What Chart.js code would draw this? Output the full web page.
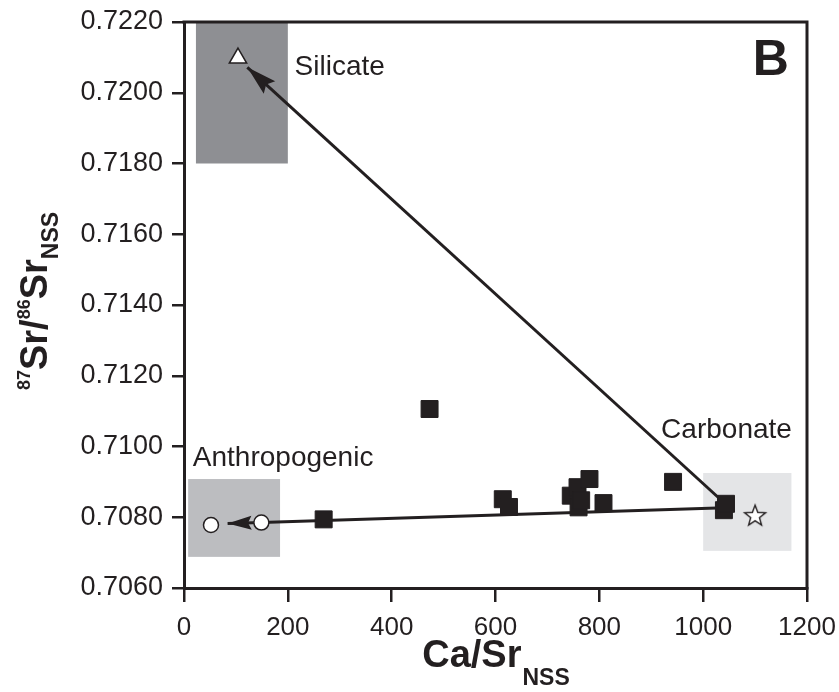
<!DOCTYPE html>
<html>
<head>
<meta charset="utf-8">
<script src="https://cdn.jsdelivr.net/npm/chart.js@4.4.0/dist/chart.umd.min.js"></script>
<style>
  html, body { margin: 0; padding: 0; background: #fff; }
  #wrap { width: 839px; height: 692px; }
</style>
</head>
<body>
<div id="wrap"><canvas id="srChart"></canvas></div>
<script>
// river samples, Ca/Sr vs 87Sr/86Sr (non sea salt)
const sampleCaSr = [269, 473, 614, 626, 745, 758, 760, 765, 781, 808, 942, 1040, 1044];
const sampleSr = [0.70794, 0.71106, 0.70851, 0.70829, 0.70861, 0.70885, 0.70828, 0.70848, 0.70908, 0.70840, 0.70900, 0.70820, 0.70838];

// end members
const anthroCaSr = [52, 149];
const anthroSr = [0.70778, 0.70785];
const silicateCaSr = [104];
const silicateSr = [0.72098];
const carbonateCaSr = [1100];
const carbonateSr = [0.70806];

// mixing lines (start -> arrow tip)
const silLineCaSr = [1044, 122];
const silLineSr = [0.70836, 0.72072];
const mixLineCaSr = [1042, 149];
const mixLineSr = [0.70827, 0.70785];
const anthArrowCaSr = [149, 84];
const anthArrowSr = [0.70785, 0.70782];

// end-member fields [min, max]
const fieldNames = ['Silicate', 'Anthropogenic', 'Carbonate'];
const fieldCaSr = [[23, 200], [8, 185], [1000, 1170]];
const fieldSr = [[0.7180, 0.7220], [0.70688, 0.70908], [0.70705, 0.70925]];

const xTicks = [0, 200, 400, 600, 800, 1000, 1200];
const yTicks = [0.7060, 0.7080, 0.7100, 0.7120, 0.7140, 0.7160, 0.7180, 0.7200, 0.7220];

const INK = '#231f20';
const FONT = "'Liberation Sans', Arial, Helvetica, sans-serif";
const fieldColors = ['#8e8f93', '#bcbdc0', '#e4e5e7'];
// label anchors in data units (left, baseline)
const fieldLabelAt = [[213, 0.7205], [17, 0.70945], [919, 0.71024]];
const panelLabelAt = [1165, 0.7205];

const pts = (xs, ys) => xs.map((x, i) => ({ x: x, y: ys[i] }));

function makeStar(r) {
  const s = Math.ceil(r * 2 + 4);
  const c = document.createElement('canvas');
  c.width = s; c.height = s;
  const g = c.getContext('2d');
  g.beginPath();
  for (let i = 0; i < 10; i++) {
    const rr = i % 2 ? r * 0.42 : r;
    const a = -Math.PI / 2 + i * Math.PI / 5;
    g.lineTo(s / 2 + rr * Math.cos(a), s / 2 + 1 + rr * Math.sin(a));
  }
  g.closePath();
  g.fillStyle = '#fff';
  g.fill();
  g.lineWidth = 1.4;
  g.strokeStyle = INK;
  g.stroke();
  return c;
}

const fieldsPlugin = {
  id: 'fields',
  beforeDatasetsDraw(chart) {
    const { ctx, scales: { x, y } } = chart;
    ctx.save();
    fieldNames.forEach((n, i) => {
      const x0 = x.getPixelForValue(fieldCaSr[i][0]);
      const x1 = x.getPixelForValue(fieldCaSr[i][1]);
      const y0 = y.getPixelForValue(fieldSr[i][1]);
      const y1 = y.getPixelForValue(fieldSr[i][0]);
      ctx.fillStyle = fieldColors[i];
      ctx.fillRect(x0, y0, x1 - x0, y1 - y0);
    });
    ctx.restore();
  },
  afterDatasetsDraw(chart) {
    const { ctx, scales: { x, y } } = chart;
    ctx.save();
    // arrow heads
    chart.data.datasets.forEach((ds, i) => {
      if (!ds.arrow) return;
      const d = chart.getDatasetMeta(i).data;
      const a = d[d.length - 2], b = d[d.length - 1];
      const ang = Math.atan2(b.y - a.y, b.x - a.x);
      ctx.save();
      ctx.translate(b.x, b.y);
      ctx.rotate(ang);
      ctx.beginPath();
      ctx.moveTo(0, 0);
      ctx.lineTo(-ds.arrow[0], -ds.arrow[1] / 2);
      ctx.lineTo(-ds.arrow[0] * 0.85, 0);
      ctx.lineTo(-ds.arrow[0], ds.arrow[1] / 2);
      ctx.closePath();
      ctx.fillStyle = INK;
      ctx.fill();
      ctx.restore();
    });
    // field labels
    ctx.fillStyle = INK;
    ctx.textBaseline = 'alphabetic';
    ctx.textAlign = 'left';
    ctx.font = '28px ' + FONT;
    fieldNames.forEach((n, i) => {
      ctx.fillText(n, x.getPixelForValue(fieldLabelAt[i][0]), y.getPixelForValue(fieldLabelAt[i][1]));
    });
    ctx.font = 'bold 50px ' + FONT;
    ctx.textAlign = 'right';
    ctx.fillText('B', x.getPixelForValue(panelLabelAt[0]), y.getPixelForValue(panelLabelAt[1]));
    ctx.restore();
  },
  afterDraw(chart) {
    const { ctx, chartArea: a } = chart;
    ctx.save();
    // top and right frame
    ctx.strokeStyle = INK;
    ctx.lineWidth = 3;
    ctx.beginPath();
    ctx.moveTo(a.left - 1.5, a.top);
    ctx.lineTo(a.right, a.top);
    ctx.lineTo(a.right, a.bottom + 1.5);
    ctx.stroke();

    ctx.fillStyle = INK;
    ctx.textBaseline = 'alphabetic';
    ctx.textAlign = 'left';
    // x title: Ca/Sr with NSS subscript
    const big = 'bold 38px ' + FONT, sub = 'bold 23px ' + FONT;
    ctx.font = big;
    const w1 = ctx.measureText('Ca/Sr').width;
    ctx.font = sub;
    const w2 = ctx.measureText('NSS').width;
    let cx = (a.left + a.right) / 2 - (w1 + w2) / 2;
    ctx.font = big;
    ctx.fillText('Ca/Sr', cx, 667);
    ctx.font = sub;
    ctx.fillText('NSS', cx + w1 + 1, 685);

    // y title: 87Sr/86Sr with NSS subscript, rotated
    const sup = 'bold 18px ' + FONT;
    const parts = [['87', sup, -17], ['Sr/', big, 0], ['86', sup, -17], ['Sr', big, 0], ['NSS', sub, 11]];
    let total = 0;
    parts.forEach(p => { ctx.font = p[1]; p.push(ctx.measureText(p[0]).width); total += p[3]; });
    ctx.translate(47, (a.top + a.bottom) / 2 - 4);
    ctx.rotate(-Math.PI / 2);
    let u = -total / 2;
    parts.forEach(p => {
      ctx.font = p[1];
      ctx.fillText(p[0], u, p[2]);
      u += p[3];
    });
    ctx.restore();
  }
};

const lineStyle = {
  showLine: true,
  borderColor: INK,
  borderWidth: 3,
  pointRadius: 0,
  pointHoverRadius: 0,
  fill: false,
  order: 3
};

new Chart(document.getElementById('srChart'), {
  type: 'scatter',
  data: {
    datasets: [
      Object.assign({ data: pts(silLineCaSr, silLineSr), arrow: [30, 17] }, lineStyle),
      Object.assign({ data: pts(mixLineCaSr, mixLineSr) }, lineStyle),
      Object.assign({ data: pts(anthArrowCaSr, anthArrowSr), arrow: [24, 14] }, lineStyle),
      {
        label: 'Samples',
        data: pts(sampleCaSr, sampleSr),
        pointStyle: 'rect',
        pointRadius: 12,
        backgroundColor: INK,
        borderColor: INK,
        borderWidth: 1,
        order: 1
      },
      {
        label: 'Anthropogenic',
        data: pts(anthroCaSr, anthroSr),
        pointStyle: 'circle',
        pointRadius: 7.5,
        backgroundColor: '#fff',
        borderColor: INK,
        borderWidth: 1.5,
        order: 0
      },
      {
        label: 'Silicate',
        data: pts(silicateCaSr, silicateSr),
        pointStyle: 'triangle',
        pointRadius: 10,
        backgroundColor: '#fff',
        borderColor: INK,
        borderWidth: 1.5,
        order: 0
      },
      {
        label: 'Carbonate',
        data: pts(carbonateCaSr, carbonateSr),
        pointStyle: makeStar(11),
        pointRadius: 11,
        order: 0
      }
    ]
  },
  options: {
    responsive: true,
    maintainAspectRatio: false,
    animation: false,
    events: [],
    layout: { padding: { top: 22, right: 32, left: 0, bottom: 0 } },
    plugins: { legend: { display: false }, tooltip: { enabled: false } },
    scales: {
      x: {
        type: 'linear',
        min: 0,
        max: 1200,
        afterBuildTicks: s => { s.ticks = xTicks.map(v => ({ value: v })); },
        afterFit: s => { s.height = 104; s.paddingLeft = 0; s.paddingRight = 0; },
        grid: { drawOnChartArea: false, drawTicks: true, tickLength: 14, color: INK, lineWidth: 2.5 },
        border: { display: true, color: INK, width: 3 },
        ticks: { color: INK, font: { family: FONT, size: 26 }, padding: 10, maxRotation: 0, callback: v => String(v) }
      },
      y: {
        type: 'linear',
        min: 0.706,
        max: 0.722,
        afterBuildTicks: s => { s.ticks = yTicks.map(v => ({ value: v })); },
        afterFit: s => { s.width = 184; s.paddingTop = 0; s.paddingBottom = 0; },
        grid: { drawOnChartArea: false, drawTicks: true, tickLength: 12, color: INK, lineWidth: 2.5 },
        border: { display: true, color: INK, width: 3 },
        ticks: { color: INK, font: { family: FONT, size: 27 }, padding: 9, callback: v => v.toFixed(4) }
      }
    }
  },
  plugins: [fieldsPlugin]
});
</script>
</body>
</html>
